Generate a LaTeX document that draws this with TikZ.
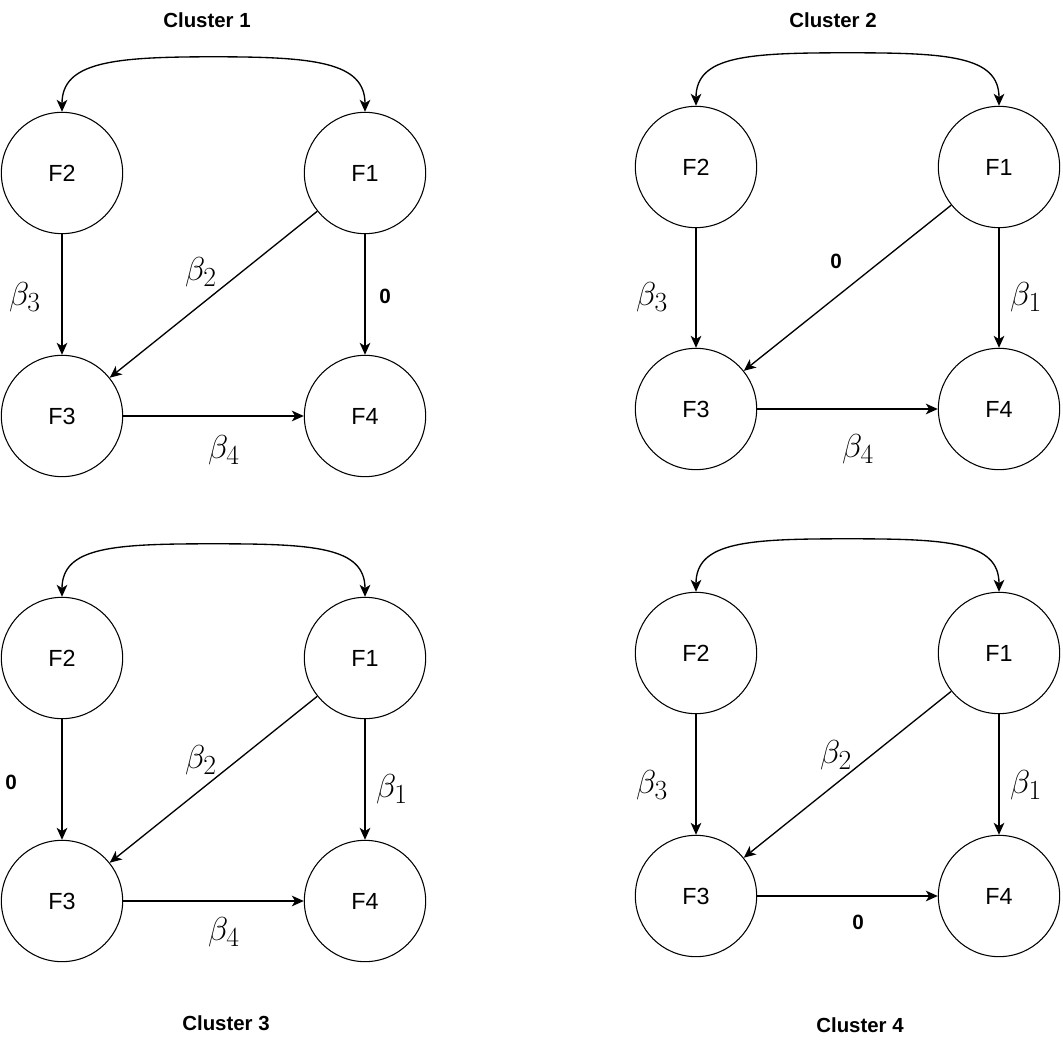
\documentclass[tikz,border=0pt]{standalone}
\usepackage{fontspec}
\setmainfont{Liberation Sans}
\usetikzlibrary{arrows.meta,calc}
\begin{document}
\begin{tikzpicture}[x=0.75pt,y=-0.75pt,
  fnode/.style={circle,draw,line width=0.8pt,minimum size=91pt,inner sep=0pt,font=\fontsize{17.5}{20}\selectfont},
  conn/.style={line width=1pt,-{Stealth[length=9pt,width=8pt,inset=2.5pt]}},
  both/.style={line width=1pt,{Stealth[length=9pt,width=8pt,inset=2.5pt]}-{Stealth[length=9pt,width=8pt,inset=2.5pt]}},
  blab/.style={font=\fontsize{24.88}{28}\selectfont,inner sep=0pt},
  zlab/.style={font=\fontsize{15.5}{18}\selectfont\bfseries,inner sep=0pt},
  ctitle/.style={font=\fontsize{15.3}{18}\selectfont\bfseries,inner sep=0pt}]
\useasboundingbox (0,0) rectangle (1063,1044);

% ---------- Cluster 1 ----------
\node[fnode] (c1f2) at (62,173) {F2};
\node[fnode] (c1f1) at (365,173) {F1};
\node[fnode] (c1f3) at (62,416) {F3};
\node[fnode] (c1f4) at (365,416) {F4};
\draw[both] (c1f2.north) .. controls +(0,-50) and +(-100,0) .. ($(c1f2.north)!0.5!(c1f1.north)+(0,-55)$) .. controls +(100,0) and +(0,-50) .. (c1f1.north);
\draw[conn] (c1f2) -- (c1f3);
\draw[conn] (c1f1) -- (c1f4);
\draw[conn] (c1f1) -- (c1f3);
\draw[conn] (c1f3) -- (c1f4);
\node[blab] (c1b3) at (25,297) {$\beta_3$};
\node[blab] (c1b2) at (201,272) {$\beta_2$};
\node[zlab] (c1z) at (385,296) {0};
\node[blab] (c1b4) at (224,450) {$\beta_4$};
\node[ctitle] (c1t) at (207,20) {Cluster 1};

% ---------- Cluster 2 ----------
\node[fnode] (c2f2) at (696,167) {F2};
\node[fnode] (c2f1) at (999,167) {F1};
\node[fnode] (c2f3) at (696,409) {F3};
\node[fnode] (c2f4) at (999,409) {F4};
\draw[both] (c2f2.north) .. controls +(0,-50) and +(-100,0) .. ($(c2f2.north)!0.5!(c2f1.north)+(0,-53)$) .. controls +(100,0) and +(0,-50) .. (c2f1.north);
\draw[conn] (c2f2) -- (c2f3);
\draw[conn] (c2f1) -- (c2f4);
\draw[conn] (c2f1) -- (c2f3);
\draw[conn] (c2f3) -- (c2f4);
\node[blab] (c2b3) at (652,297) {$\beta_3$};
\node[zlab] (c2z) at (836,261) {0};
\node[blab] (c2b1) at (1026,297) {$\beta_1$};
\node[blab] (c2b4) at (858,449) {$\beta_4$};
\node[ctitle] (c2t) at (833,20) {Cluster 2};

% ---------- Cluster 3 ----------
\node[fnode] (c3f2) at (62,658) {F2};
\node[fnode] (c3f1) at (365,658) {F1};
\node[fnode] (c3f3) at (62,901) {F3};
\node[fnode] (c3f4) at (365,901) {F4};
\draw[both] (c3f2.north) .. controls +(0,-50) and +(-100,0) .. ($(c3f2.north)!0.5!(c3f1.north)+(0,-53)$) .. controls +(100,0) and +(0,-50) .. (c3f1.north);
\draw[conn] (c3f2) -- (c3f3);
\draw[conn] (c3f1) -- (c3f4);
\draw[conn] (c3f1) -- (c3f3);
\draw[conn] (c3f3) -- (c3f4);
\node[zlab] (c3z) at (11,782) {0};
\node[blab] (c3b2) at (201,760) {$\beta_2$};
\node[blab] (c3b1) at (392,789) {$\beta_1$};
\node[blab] (c3b4) at (224,932) {$\beta_4$};
\node[ctitle] (c3t) at (226,1023) {Cluster 3};

% ---------- Cluster 4 ----------
\node[fnode] (c4f2) at (696,653) {F2};
\node[fnode] (c4f1) at (999,653) {F1};
\node[fnode] (c4f3) at (696,896) {F3};
\node[fnode] (c4f4) at (999,896) {F4};
\draw[both] (c4f2.north) .. controls +(0,-50) and +(-100,0) .. ($(c4f2.north)!0.5!(c4f1.north)+(0,-53)$) .. controls +(100,0) and +(0,-50) .. (c4f1.north);
\draw[conn] (c4f2) -- (c4f3);
\draw[conn] (c4f1) -- (c4f4);
\draw[conn] (c4f1) -- (c4f3);
\draw[conn] (c4f3) -- (c4f4);
\node[blab] (c4b3) at (652,785) {$\beta_3$};
\node[blab] (c4b2) at (836,755) {$\beta_2$};
\node[blab] (c4b1) at (1026,785) {$\beta_1$};
\node[zlab] (c4z) at (858,922) {0};
\node[ctitle] (c4t) at (860,1025) {Cluster 4};
\end{tikzpicture}
\end{document}
